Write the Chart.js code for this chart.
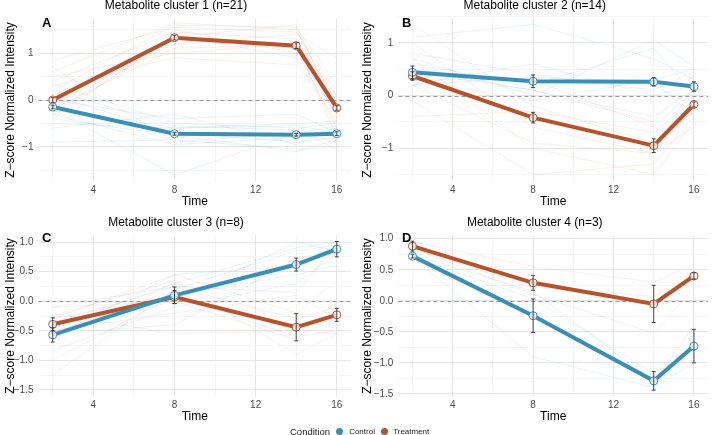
<!DOCTYPE html>
<html lang="en">
<head>
<meta charset="UTF-8">
<title>Metabolite clusters</title>
<script src="https://cdn.jsdelivr.net/npm/chart.js"></script>
<style>
  body { margin: 0; background: #fff; font-family: "Liberation Sans", Arial, sans-serif; }
  #wrap { position: relative; width: 713px; height: 435px; overflow: hidden; }
  canvas { position: absolute; }
  .tag { position: absolute; font-weight: bold; font-size: 13px; line-height: 13px; color: #000; }
  #legend { position: absolute; left: 290px; top: 424px; height: 14px; display: flex; align-items: center; color: #222; }
  #legend .lt { font-size: 9.5px; margin-right: 5.5px; }
  #legend .ll { font-size: 8px; }
  #legend .dot { width: 7px; height: 7px; border-radius: 50%; display: inline-block; }
</style>
</head>
<body>
<div id="wrap">
  <canvas id="p1" width="356" height="214" style="left:0;top:-2px"></canvas>
  <canvas id="p2" width="356" height="214" style="left:357px;top:-2px"></canvas>
  <canvas id="p3" width="356" height="212" style="left:0;top:215px"></canvas>
  <canvas id="p4" width="356" height="212" style="left:357px;top:215px"></canvas>
  <div class="tag" style="left:42px;top:16px">A</div>
  <div class="tag" style="left:402px;top:16px">B</div>
  <div class="tag" style="left:42px;top:231px">C</div>
  <div class="tag" style="left:402px;top:231px">D</div>
  <div id="legend">
    <span class="lt">Condition</span>
    <span class="dot" style="background:#3a8fb7;margin-right:6.5px"></span>
    <span class="ll" style="margin-right:6.4px">Control</span>
    <span class="dot" style="background:#b4532c;margin-right:4.8px"></span>
    <span class="ll">Treatment</span>
  </div>
</div>
<script>
const times = [2, 8, 14, 16];
const xMajor = [4, 8, 12, 16];
const xMinor = [2, 6, 10, 14];

const titles = ['Metabolite cluster 1 (n=21)', 'Metabolite cluster 2 (n=14)',
                'Metabolite cluster 3 (n=8)', 'Metabolite cluster 4 (n=3)'];

const yMajorAB = [-1, 0, 1];
const yMinorAB = [-1.5, -0.5, 0.5, 1.5];
const yMajorCD = [-1.5, -1, -0.5, 0, 0.5, 1];
const yMinorCD = [-1.25, -0.75, -0.25, 0.25, 0.75];

// cluster 1
const c1Control = [-0.15, -0.72, -0.74, -0.72];
const c1ControlSe = [0.04, 0.03, 0.03, 0.04];
const c1Treatment = [0.0, 1.33, 1.16, -0.17];
const c1TreatmentSe = [0.05, 0.05, 0.06, 0.05];
const c1ControlLines = [
  [0.35, -0.5, -0.6, -0.5], [0.1, -0.7, -0.9, -0.8], [-0.2, -1.6, -0.7, -0.9],
  [-0.5, -0.6, -0.5, -0.45], [-0.9, -0.85, -1.05, -1.0], [-0.3, -0.95, -0.8, -0.6],
  [0.0, -0.4, -0.3, -0.7], [-0.4, -0.75, -1.1, -0.85], [0.2, -0.55, -0.65, -1.05],
  [-0.6, -0.3, -0.95, -0.6], [-0.15, -0.6, -0.55, -0.7], [0.7, -0.9, -0.7, -0.55]
];
const c1TreatmentLines = [
  [0.85, 1.55, 1.45, 0.2], [0.6, 1.65, 1.5, -0.1], [0.4, 1.45, 1.3, -0.4],
  [0.2, 1.6, 1.55, 0.3], [0.1, 1.3, 1.1, -0.6], [-0.1, 1.2, 1.4, 0.9],
  [-0.3, 1.5, 1.0, -0.3], [0.3, 0.9, 0.75, -0.2], [-0.2, 1.1, 1.2, -0.8],
  [-0.4, 1.4, 0.9, -0.5], [0.5, 1.0, 1.2, 0.1], [-0.35, 1.35, 1.6, -0.3]
];

// cluster 2
const c2Control = [0.44, 0.27, 0.26, 0.17];
const c2ControlSe = [0.12, 0.12, 0.08, 0.09];
const c2Treatment = [0.37, -0.42, -0.95, -0.17];
const c2TreatmentSe = [0.08, 0.1, 0.13, 0.05];
const c2ControlLines = [
  [1.1, 1.35, 0.7, 0.3], [0.8, 0.4, 0.1, 0.45], [0.6, 0.2, 0.9, 0.0],
  [0.3, -0.1, 0.3, 0.5], [0.2, 0.6, 0.0, 0.2], [0.45, 0.1, -0.4, 0.1],
  [0.7, 0.0, 1.05, 0.55], [0.2, 0.35, 0.2, -0.2]
];
const c2TreatmentLines = [
  [1.35, -0.2, -0.9, -0.3], [1.0, -0.6, -1.1, 0.2], [0.7, -1.0, -1.5, -0.5],
  [0.3, 0.3, -0.6, 0.1], [-0.1, -1.5, -1.3, -0.4], [-0.4, -0.3, -0.7, -0.1],
  [0.2, -0.9, -1.1, -0.6], [0.5, 0.1, -0.5, 0.4]
];

// cluster 3
const c3Control = [-0.57, 0.1, 0.62, 0.88];
const c3ControlSe = [0.12, 0.14, 0.11, 0.13];
const c3Treatment = [-0.39, 0.07, -0.44, -0.23];
const c3TreatmentSe = [0.11, 0.11, 0.23, 0.11];
const c3ControlLines = [
  [-0.45, 0.3, 0.9, 1.0], [-0.6, 0.45, 0.6, 0.95], [-0.83, -0.1, 0.3, 0.8],
  [-1.25, 0.2, 0.85, 0.95], [-0.3, 0.1, 0.45, 0.6], [-0.55, -0.4, 0.7, 0.9],
  [-0.5, 0.0, 1.0, 0.85], [-0.1, 0.25, 0.15, 0.95]
];
const c3TreatmentLines = [
  [-0.25, 0.35, -0.9, -0.55], [-0.3, 0.45, -0.2, 0.35], [-0.5, -0.2, 0.1, -0.3],
  [-1.0, 0.1, -0.6, -0.5], [-0.2, -0.55, -0.5, -0.2], [-0.35, 0.25, -0.3, -0.1],
  [-0.1, 0.0, -0.65, 0.0], [-0.4, 0.15, -0.5, -0.55]
];

// cluster 4
const c4Control = [0.72, -0.24, -1.29, -0.73];
const c4ControlSe = [0.03, 0.27, 0.15, 0.27];
const c4Treatment = [0.88, 0.29, -0.05, 0.40];
const c4TreatmentSe = [0.08, 0.12, 0.30, 0.05];
const c4ControlLines = [
  [0.7, -0.9, -1.4, -1.0], [0.75, 0.15, -1.3, -0.4], [0.71, 0.03, -1.17, -0.8]
];
const c4TreatmentLines = [
  [0.95, 0.55, 0.3, 0.6], [0.85, 0.1, -0.52, 0.2], [0.84, 0.22, 0.07, 0.4]
];

const blue = '#3a8fb7';
const red = '#b4532c';

function pts(vals) {
  return vals.map((v, i) => ({ x: times[i], y: v }));
}

function fmt(v, dec) {
  return v.toFixed(dec).replace('-', '\u2212');
}

// dashed zero line under the data, error bars on top
const extras = {
  id: 'extras',
  beforeDatasetsDraw(chart) {
    const { ctx, chartArea: a, scales: { y } } = chart;
    const py = Math.round(y.getPixelForValue(0)) + 0.5;
    ctx.save();
    ctx.strokeStyle = '#9a9a9a';
    ctx.lineWidth = 1;
    ctx.setLineDash([4, 3]);
    ctx.beginPath();
    ctx.moveTo(a.left, py);
    ctx.lineTo(a.right, py);
    ctx.stroke();
    ctx.restore();
  },
  afterDatasetsDraw(chart) {
    const { ctx, scales: { x, y } } = chart;
    ctx.save();
    ctx.strokeStyle = '#333';
    ctx.lineWidth = 0.9;
    chart.data.datasets.forEach(ds => {
      if (!ds.se) return;
      ds.data.forEach((p, i) => {
        const px = x.getPixelForValue(p.x);
        const y1 = y.getPixelForValue(p.y + ds.se[i]);
        const y2 = y.getPixelForValue(p.y - ds.se[i]);
        ctx.beginPath();
        ctx.moveTo(px, y1); ctx.lineTo(px, y2);
        ctx.moveTo(px - 2, y1); ctx.lineTo(px + 2, y1);
        ctx.moveTo(px - 2, y2); ctx.lineTo(px + 2, y2);
        ctx.stroke();
      });
    });
    ctx.restore();
  }
};

function makePanel(id, title, ctrl, ctrlSe, trt, trtSe, ctrlLines, trtLines, yMin, yMax, yMajor, yMinor, dec) {
  const datasets = [
    { data: pts(ctrl), se: ctrlSe, borderColor: blue, borderWidth: 4, order: 0,
      pointRadius: 4, pointBorderWidth: 1, pointBorderColor: blue,
      pointBackgroundColor: 'rgba(255,255,255,0.8)' },
    { data: pts(trt), se: trtSe, borderColor: red, borderWidth: 4, order: 1,
      pointRadius: 4, pointBorderWidth: 1, pointBorderColor: red,
      pointBackgroundColor: 'rgba(255,255,255,0.8)' }
  ];
  ctrlLines.forEach(l => datasets.push({ data: pts(l), borderColor: 'rgba(58,143,183,0.16)',
    borderWidth: 0.7, pointRadius: 0, order: 2 }));
  trtLines.forEach(l => datasets.push({ data: pts(l), borderColor: 'rgba(180,83,44,0.13)',
    borderWidth: 0.7, pointRadius: 0, order: 2 }));

  const yTicks = yMajor.concat(yMinor).sort((a, b) => a - b);
  const xTicks = xMajor.concat(xMinor).sort((a, b) => a - b);
  const rightPanel = id === 'p2' || id === 'p4';

  new Chart(document.getElementById(id), {
    type: 'line',
    data: { datasets },
    options: {
      responsive: false,
      animation: false,
      events: [],
      layout: { padding: { right: rightPanel ? 0.5 : 4, bottom: 0 } },
      plugins: {
        legend: { display: false },
        tooltip: { enabled: false },
        title: {
          display: true, text: title, color: '#000',
          font: { family: 'Liberation Sans', size: 12, weight: 'normal' },
          padding: { top: 0, bottom: 5.6 }
        }
      },
      scales: {
        x: {
          type: 'linear', min: 1.3, max: 16.7,
          afterBuildTicks: s => { s.ticks = xTicks.map(v => ({ value: v })); },
          afterFit: s => { s.height = 30; },
          ticks: {
            color: '#4d4d4d', padding: 2,
            font: { family: 'Liberation Sans', size: 10 },
            callback: v => xMajor.includes(v) ? String(v) : ''
          },
          grid: {
            drawTicks: false,
            color: c => xMajor.includes(c.tick.value) ? '#e6e6e6' : '#f2f2f2',
            lineWidth: c => xMajor.includes(c.tick.value) ? 1 : 0.8
          },
          border: { display: false },
          title: {
            display: true, text: 'Time', color: '#000',
            font: { family: 'Liberation Sans', size: 12 },
            padding: { top: 0, bottom: 3 }
          }
        },
        y: {
          min: yMin, max: yMax,
          afterBuildTicks: s => { s.ticks = yTicks.map(v => ({ value: v })); },
          afterFit: s => { s.width = rightPanel ? 41.4 : 38.5; },
          ticks: {
            color: '#4d4d4d', padding: 5,
            font: { family: 'Liberation Sans', size: 10 },
            callback: v => yMajor.includes(v) ? fmt(v, dec) : ''
          },
          grid: {
            drawTicks: false,
            color: c => yMajor.includes(c.tick.value) ? '#e6e6e6' : '#f2f2f2',
            lineWidth: c => yMajor.includes(c.tick.value) ? 1 : 0.8
          },
          border: { display: false },
          title: {
            display: true, text: 'Z\u2212score Normalized Intensity', color: '#000',
            font: { family: 'Liberation Sans', size: 12 },
            padding: { top: 3, bottom: 0 }
          }
        }
      }
    },
    plugins: [extras]
  });
}

makePanel('p1', titles[0], c1Control, c1ControlSe, c1Treatment, c1TreatmentSe,
  c1ControlLines, c1TreatmentLines, -1.75, 1.75, yMajorAB, yMinorAB, 0);
makePanel('p2', titles[1], c2Control, c2ControlSe, c2Treatment, c2TreatmentSe,
  c2ControlLines, c2TreatmentLines, -1.64, 1.47, yMajorAB, yMinorAB, 0);
makePanel('p3', titles[2], c3Control, c3ControlSe, c3Treatment, c3TreatmentSe,
  c3ControlLines, c3TreatmentLines, -1.62, 1.12, yMajorCD, yMinorCD, 1);
makePanel('p4', titles[3], c4Control, c4ControlSe, c4Treatment, c4TreatmentSe,
  c4ControlLines, c4TreatmentLines, -1.55, 1.06, yMajorCD, yMinorCD, 1);
</script>
</body>
</html>
